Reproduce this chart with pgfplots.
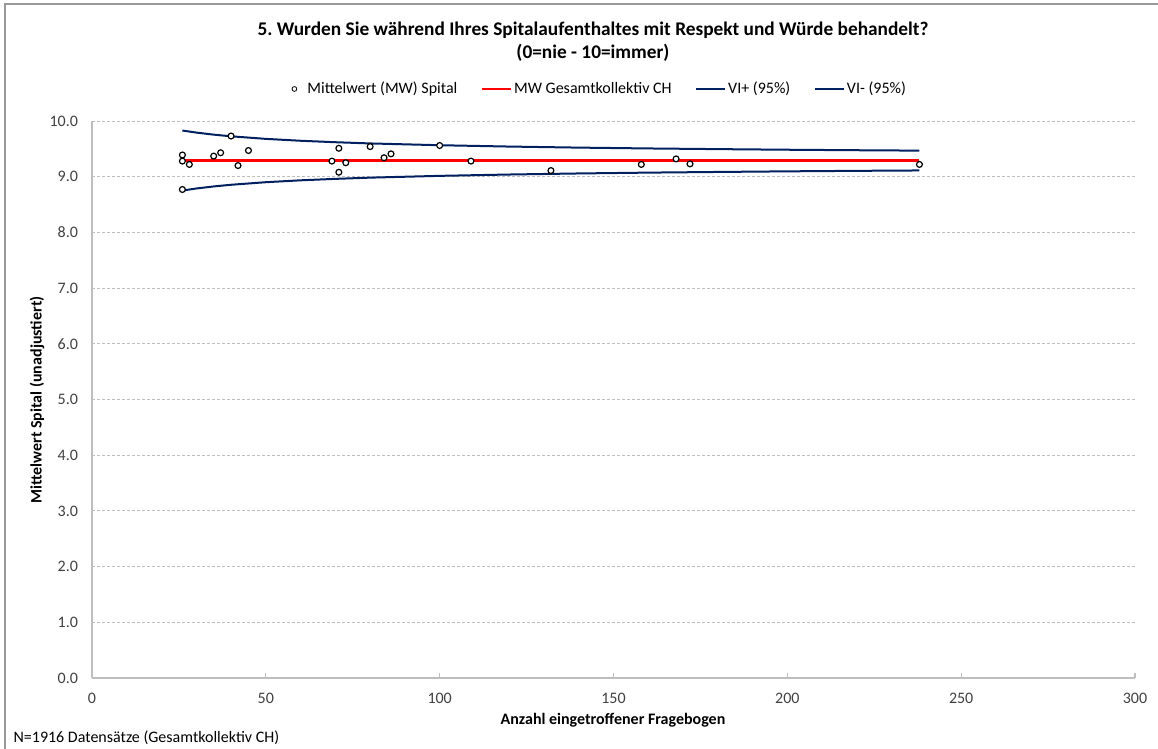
\documentclass[border=0pt]{standalone}
\usepackage{fontspec}
\setmainfont{Carlito}
\usepackage{pgfplots}
\pgfplotsset{compat=1.18}
\definecolor{navy}{RGB}{0,32,96}
\definecolor{gridgray}{RGB}{190,190,190}
\definecolor{axgray}{RGB}{190,190,190}
\definecolor{txt}{RGB}{64,64,64}
\begin{document}
\begin{tikzpicture}
\useasboundingbox (0,0) rectangle (868.5pt,561.75pt);
\draw[gray!80, line width=0.8pt] (3.75pt,-1pt) -- (3.75pt,558.75pt) -- (870pt,558.75pt);
\node[font=\fontsize{14.5}{17.5}\selectfont\bfseries, align=center] at (444.75pt,530.5pt) {5.\ Wurden Sie während Ihres Spitalaufenthaltes mit Respekt und Würde behandelt?\\(0=nie - 10=immer)};
\begin{axis}[
  at={(69pt,53.25pt)}, anchor=south west,
  scale only axis, width=782.25pt, height=417.75pt,
  xmin=0, xmax=300, ymin=0, ymax=10,
  xtick={0,50,...,300}, ytick={0,1,...,10},
  axis x line*=bottom, axis y line*=left,
  axis line style={axgray, line width=1pt},
  x axis line style={-}, y axis line style={-},
  tick style={axgray, line width=0.8pt},
  xtick style={axgray}, major tick length=4pt, tick align=inside,
  ytick style={draw=none},
  ymajorgrids, grid style={gridgray, line width=0.6pt, dash pattern=on 2.25pt off 1.5pt},
  /pgf/number format/assume math mode=true,
  tick label style={font=\fontsize{12}{14}\selectfont, text=txt},
  yticklabel style={/pgf/number format/fixed, /pgf/number format/precision=1, /pgf/number format/fixed zerofill, xshift=-7pt},
  xticklabel style={yshift=-8pt},
  legend columns=4,
  legend style={draw=none, fill=none, at={(0.4794,1.0575)}, anchor=center,
    font=\fontsize{12}{14}\selectfont, nodes={inner sep=1.5pt},
    /tikz/every even column/.append style={column sep=16pt}},
  clip=false,
]
\addplot[red, line width=1.6pt, forget plot] coordinates {(26,9.29) (238,9.29)};
\addplot[navy, line width=1.5pt, forget plot] coordinates {
(26,9.829) (30,9.792) (35,9.755) (40,9.725) (50,9.679) (60,9.645) (70,9.619) (80,9.597) (100,9.565) (120,9.541) (140,9.522) (160,9.507) (180,9.495) (200,9.484) (220,9.475) (238,9.468)};
\addplot[navy, line width=1.5pt, forget plot] coordinates {
(26,8.751) (30,8.788) (35,8.825) (40,8.855) (50,8.901) (60,8.935) (70,8.961) (80,8.983) (100,9.015) (120,9.039) (140,9.058) (160,9.073) (180,9.085) (200,9.096) (220,9.105) (238,9.112)};
\addplot[only marks, mark=*, mark size=2.2pt, mark options={draw=black, fill=white, line width=0.9pt},
  legend image code/.code={\path[draw=none, fill=none] (0pt,0pt) -- (22pt,0pt); \draw[black, line width=0.6pt, fill=white] (13.75pt,0pt) circle (1.8pt);}]
 coordinates {
(26,9.39) (26,9.28) (26,8.77) (28,9.22) (35,9.37) (37,9.43) (40,9.73) (42,9.20) (45,9.47)
(69,9.28) (71,9.51) (71,9.08) (73,9.25) (80,9.54) (84,9.34) (86,9.41) (100,9.56) (109,9.28)
(132,9.11) (158,9.22) (168,9.32) (172,9.23) (238,9.22)};
\addlegendentry{Mittelwert (MW) Spital}
\addlegendimage{legend image code/.code={\draw[red, line width=1.6pt] (0pt,0pt) -- (22pt,0pt);}}
\addlegendentry{MW Gesamtkollektiv CH}
\addlegendimage{legend image code/.code={\draw[navy, line width=1.5pt] (0pt,0pt) -- (22pt,0pt);}}
\addlegendentry{VI+ (95\%)}
\addlegendimage{legend image code/.code={\draw[navy, line width=1.5pt] (0pt,0pt) -- (22pt,0pt);}}
\addlegendentry{VI- (95\%)}
\end{axis}
\node[font=\fontsize{12}{14}\selectfont\bfseries] at (459.75pt,21.75pt) {Anzahl eingetroffener Fragebogen};
\node[font=\fontsize{12}{14}\selectfont\bfseries, rotate=90] at (27.75pt,261.75pt) {Mittelwert Spital (unadjustiert)};
\node[font=\fontsize{12}{14}\selectfont, anchor=west, inner sep=0pt] at (10pt,8.5pt) {N=1916 Datensätze (Gesamtkollektiv CH)};
\end{tikzpicture}
\end{document}
